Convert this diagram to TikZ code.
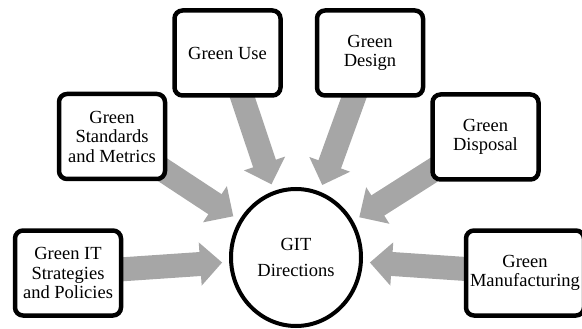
\documentclass[tikz,border=0pt]{standalone}
\usepackage{fontspec}
\setmainfont{Liberation Serif}
\usetikzlibrary{arrows.meta,shapes.geometric,backgrounds}

\begin{document}
\begin{tikzpicture}[x=1pt,y=-1pt,
    dirbox/.style={draw, line width=4.5pt, rounded corners=8pt, fill=white,
      minimum width=106pt, minimum height=85pt, align=center,
      font=\fontsize{18.5}{19.5}\selectfont, inner sep=2pt},
    hub/.style={draw, ellipse, line width=4pt, fill=white,
      minimum width=130pt, minimum height=137pt, align=center,
      font=\fontsize{18.5}{19.5}\selectfont},
    fat/.style={draw=black!35, line width=24pt, shorten >=7pt,
      -{Triangle[width=42pt,length=22pt]}}]
  \useasboundingbox (0,0) rectangle (582,329);
  \node[hub] (git) at (296,257.5) {\raisebox{-3pt}{GIT}\\[10pt]Directions};
  \node[dirbox] (use) at (227.5,53) {Green Use};
  \node[dirbox] (design) at (370,53) {Green\\Design};
  \node[dirbox] (std) at (112,136.5) {Green\\Standards\\and Metrics};
  \node[dirbox] (disp) at (485.5,137) {Green\\Disposal};
  \node[dirbox] (strat) at (68,273) {Green IT\\Strategies\\and Policies};
  \node[dirbox, minimum width=118pt] (manu) at (525,273) {Green\\Manufacturing};
  \begin{scope}[on background layer]
    \draw [fat] (strat.center) -- (git);
    \draw [fat] (std.center) -- (git);
    \draw [fat] (use.center) -- (git);
    \draw [fat] (design.center) -- (git);
    \draw [fat] (disp.center) -- (git);
    \draw [fat] (manu.center) -- (git);
  \end{scope}
\end{tikzpicture}
\end{document}
